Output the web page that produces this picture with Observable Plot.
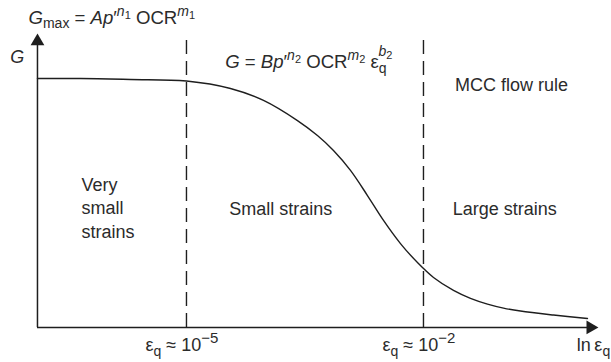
<!DOCTYPE html>
<html>
<head>
<meta charset="utf-8">
<script src="https://cdn.jsdelivr.net/npm/d3@7"></script>
<script src="https://cdn.jsdelivr.net/npm/@observablehq/plot@0.6"></script>
<style>
  html, body { margin: 0; padding: 0; background: #fff; }
  svg { display: block; }
</style>
</head>
<body>
<div id="chart"></div>
<script>
// ---- Data (x = log10 of shear strain εq, y = normalised stiffness G/Gmax) ----
const logStrain = [-6.886, -6.342, -5.709, -5.0, -4.443, -4.025, -3.595, -3.342, -3.139, -2.924,
                   -2.709, -2.506, -2.291, -2.076, -1.873, -1.620, -1.405, -1.190, -0.987, -0.772,
                   -0.354, 0.076];
const stiffness = [1.000, 1.000, 0.996, 0.990, 0.960, 0.912, 0.831, 0.771, 0.711, 0.631,
                   0.530, 0.430, 0.337, 0.261, 0.201, 0.149, 0.117, 0.094, 0.078, 0.066,
                   0.050, 0.036];
const boundaryStrain = [-5, -2];           // εq ≈ 10^-5 and εq ≈ 10^-2
const boundaryLabels = ["eps5", "eps2"];
const regionLabels = ["Very\nsmall\nstrains", "Small strains", "Large strains", "MCC flow rule"];
const regionX = [-6.33, -4.46, -1.63, -1.60];
const regionY = [0.361, 0.450, 0.450, 0.948];
const formulaKeys = ["gmax", "gsmall"];
const formulaX = [-7.00, -4.51];
const formulaY = [1.217, 1.044];
const axisLabelKeys = ["glabel", "lnaxis"];
const axisLabelX = [-7.23, -0.06];
const axisLabelY = [1.064, -0.096];
const axisOrigin = {x: -6.886, y: 0};
const axisEnd = {x: 0.114, y: 1.149};
const boundaryTop = 1.173;

const curve = logStrain.map((x, i) => ({x, g: stiffness[i]}));
const regions = regionLabels.map((t, i) => ({t, x: regionX[i], y: regionY[i]}));
const formulas = formulaKeys.map((k, i) => ({k, x: formulaX[i], y: formulaY[i]}));
const axisLabels = axisLabelKeys.map((k, i) => ({k, x: axisLabelX[i], y: axisLabelY[i]}));
const bounds = boundaryStrain.map((x, i) => ({x, k: boundaryLabels[i]}));

const ink = "#1e1e1e";
const txt = "#2b2b2b";

const plot = Plot.plot({
  width: 611,
  height: 362,
  margin: 0,
  x: {domain: [-7.354, 0.380], axis: null},
  y: {domain: [-0.1406, 1.3133], axis: null},
  style: {fontFamily: "'Liberation Sans', Arial, sans-serif", fontSize: "18px", background: "#fff"},
  marks: [
    Plot.ruleX(bounds, {x: "x", y1: 0, y2: boundaryTop, stroke: ink, strokeWidth: 1.4, strokeDasharray: "14,7"}),
    Plot.ruleX([axisOrigin], {x: "x", y1: "y", y2: axisEnd.y, stroke: ink, strokeWidth: 1.5}),
    Plot.ruleY([axisOrigin], {y: "y", x1: "x", x2: axisEnd.x, stroke: ink, strokeWidth: 1.5}),
    Plot.dot([{x: axisOrigin.x, y: axisEnd.y}], {x: "x", y: "y", symbol: "triangle", r: 5.1, fill: ink, stroke: "none"}),
    Plot.dot([{x: axisEnd.x, y: axisOrigin.y}], {x: "x", y: "y", symbol: "triangle", r: 5.1, fill: ink, stroke: "none", rotate: 90}),
    Plot.line(curve, {x: "x", y: "g", curve: "catmull-rom", stroke: ink, strokeWidth: 1.4}),
    Plot.text(regions, {x: "x", y: "y", text: "t", textAnchor: "start", lineAnchor: "bottom", lineHeight: 1.3, fill: txt, fontSize: 18}),
    Plot.text(formulas, {x: "x", y: "y", text: "k", textAnchor: "start", lineAnchor: "bottom", fill: txt, fontSize: 18.6}),
    Plot.text(axisLabels, {x: "x", y: "y", text: "k", textAnchor: "start", lineAnchor: "bottom", fill: txt, fontSize: 18}),
    Plot.text(bounds, {x: d => d.x - 0.519, y: -0.096, text: "k", textAnchor: "start", lineAnchor: "bottom", fill: txt, fontSize: 18})
  ]
});

const rich = {
  gmax: '<tspan font-style="italic">G</tspan><tspan font-size="14" dy="4">max</tspan><tspan dy="-4"> = </tspan><tspan font-style="italic">Ap</tspan><tspan>′</tspan><tspan font-size="14" font-style="italic" dy="-8">n</tspan><tspan font-size="11" dy="3">1</tspan><tspan dy="5"> OCR</tspan><tspan font-size="14" font-style="italic" dy="-8">m</tspan><tspan font-size="11" dy="3">1</tspan>',
  gsmall: '<tspan font-style="italic">G</tspan><tspan> = </tspan><tspan font-style="italic">Bp</tspan><tspan>′</tspan><tspan font-size="14" font-style="italic" dy="-8">n</tspan><tspan font-size="11" dy="3">2</tspan><tspan dy="5"> OCR</tspan><tspan font-size="14" font-style="italic" dy="-8">m</tspan><tspan font-size="11" dy="3">2</tspan><tspan dy="5"> ε</tspan><tspan font-size="14" dy="5">q</tspan><tspan font-size="14" font-style="italic" dx="-8" dy="-17">b</tspan><tspan font-size="11" dy="3">2</tspan>',
  glabel: '<tspan font-style="italic">G</tspan>',
  lnaxis: '<tspan>ln\u2009ε</tspan><tspan font-size="14" dy="5">q</tspan>',
  eps5: '<tspan>ε</tspan><tspan font-size="14" dy="5">q</tspan><tspan dy="-5"> ≈ 10</tspan><tspan font-size="15" dy="-8">−5</tspan>',
  eps2: '<tspan>ε</tspan><tspan font-size="14" dy="5">q</tspan><tspan dy="-5"> ≈ 10</tspan><tspan font-size="15" dy="-8">−2</tspan>'
};
plot.querySelectorAll("text").forEach(el => {
  const k = el.textContent;
  if (rich[k]) el.innerHTML = rich[k];
});

document.getElementById("chart").appendChild(plot);
</script>
</body>
</html>
